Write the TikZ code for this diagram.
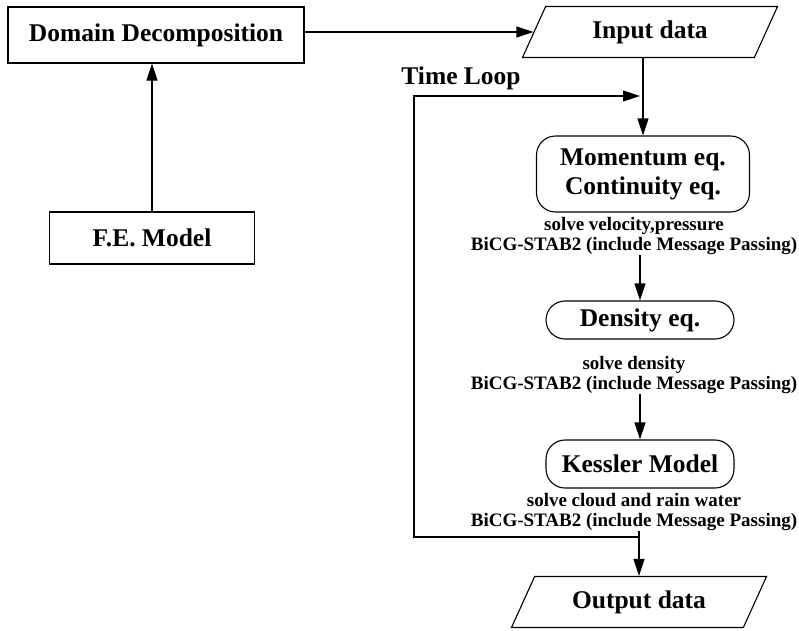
\documentclass[tikz,border=0pt]{standalone}
\usepackage{fontspec}
\setmainfont{Liberation Serif}
\usetikzlibrary{arrows.meta,shapes.geometric}

\newcommand{\boxfont}{\fontsize{25.5}{29}\selectfont\bfseries}
\newcommand{\notefont}{\fontsize{19}{20}\selectfont\bfseries}

\tikzset{
  plainbox/.style={draw, rectangle, line width=1.1pt, inner sep=0pt, font=\boxfont},
  eqbox/.style={draw, rectangle, rounded corners=19pt, line width=1.1pt, inner sep=0pt, align=center, font=\boxfont},
  iobox/.style={draw, trapezium, trapezium left angle=45, trapezium right angle=135,
    trapezium stretches body, line width=1.1pt, inner sep=0pt, minimum height=51pt, font=\boxfont},
  note/.style={align=center, inner sep=0pt, font=\notefont},
  flow/.style={-{Triangle[length=17pt,width=11pt]}, line width=1.1pt},
}

\begin{document}
\begin{tikzpicture}[x=1pt, y=-1pt]
        \useasboundingbox (0,0) rectangle (799,630);

        \node[plainbox, minimum width=296pt, minimum height=56pt] (domain) at (156,35) {Domain Decomposition};
        \node[plainbox, minimum width=205pt, minimum height=52pt] (femodel) at (152,238) {F.E. Model};

        \node[iobox, minimum width=255pt] (input) at (650,32) {Input data};

        \node[eqbox, minimum width=213pt, minimum height=76pt] (momentum) at (643,174) {\raisebox{-4pt}{Momentum eq.}\\\raisebox{-4pt}{Continuity eq.}};
        \node[note] (momnote) at (634,236) {solve velocity,pressure\\BiCG-STAB2 (include Message Passing)};

        \node[eqbox, minimum width=188pt, minimum height=38pt] (density) at (640,320) {Density eq.};
        \node[note] (densnote) at (634,375) {solve density\\BiCG-STAB2 (include Message Passing)};

        \node[eqbox, minimum width=188pt, minimum height=48pt] (kessler) at (640,464) {Kessler Model};
        \node[note] (kesnote) at (634,512) {solve cloud and rain water\\BiCG-STAB2 (include Message Passing)};

        \node[iobox, minimum width=255pt] (output) at (639,602) {Output data};

        \node[font=\boxfont, inner sep=0pt] (timeloop) at (461,78) {Time Loop};

        \draw[flow] (femodel.north) -- (femodel.north |- domain.south);
        \draw[flow] (domain.east |- input.west) -- (input.west);
        \draw[flow] (input.south -| momentum.north) -- (momentum.north);
        \draw[flow] (momnote.south -| density.north) -- (density.north);
        \draw[flow] (densnote.south -| kessler.north) -- (kessler.north);
        \draw[flow] (kesnote.south -| output.north) -- (output.north);

        % time loop back to the top
        \coordinate (loopbot) at (640,537);
        \coordinate (looptop) at (643,96);
        \draw[flow, shorten >=3pt] (loopbot) -- (414,537) |- (looptop);
    \end{tikzpicture}
\end{document}
